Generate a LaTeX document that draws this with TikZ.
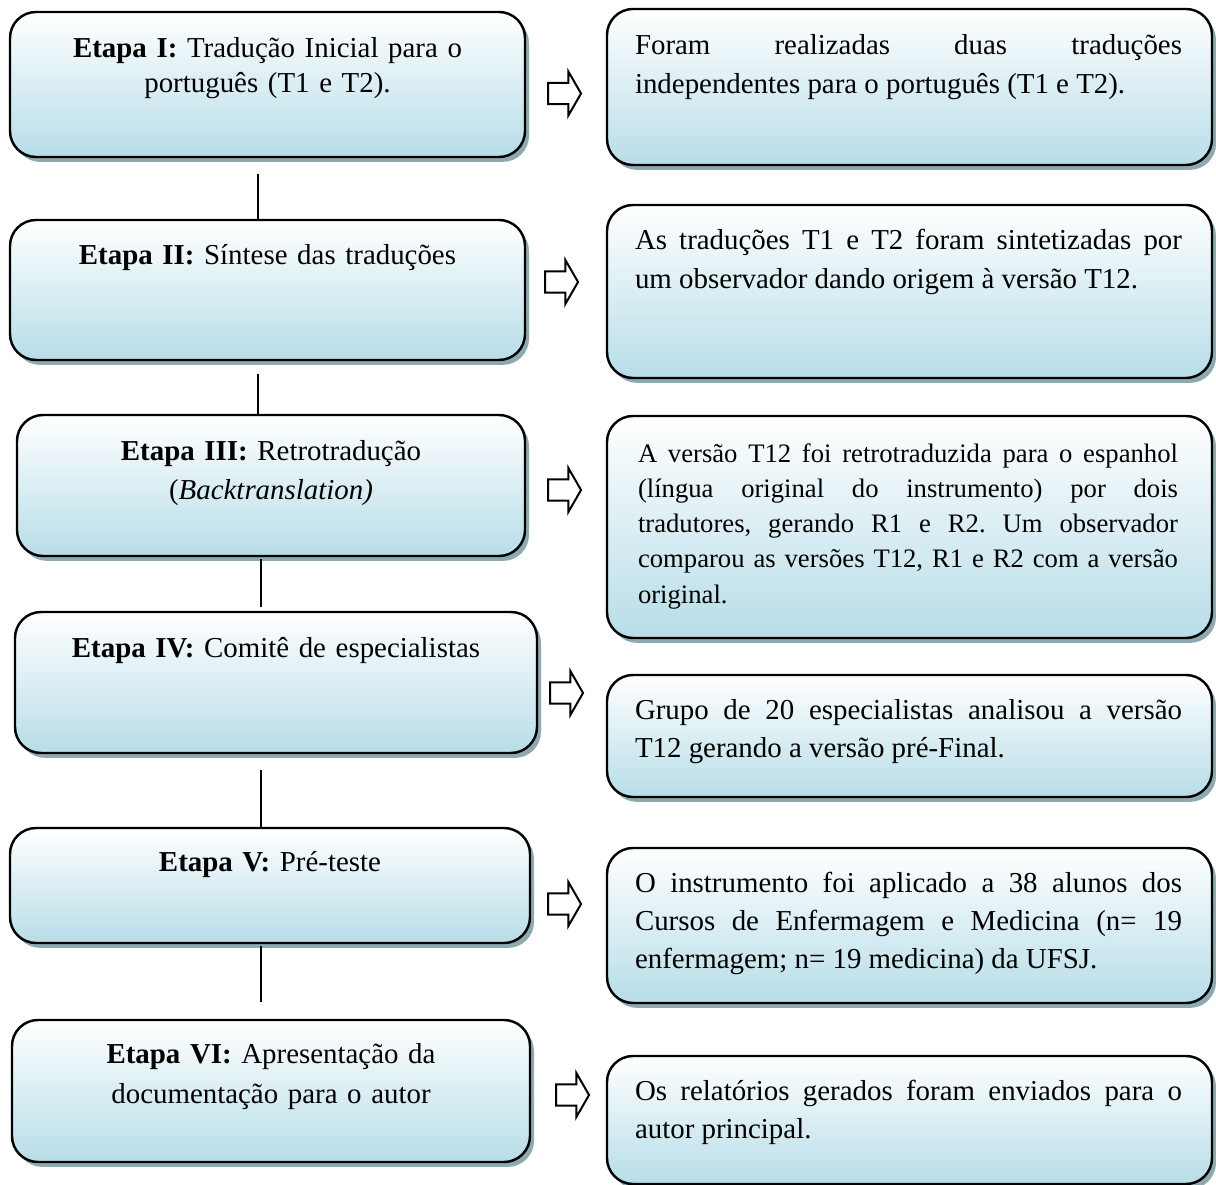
\documentclass[tikz,border=0pt]{standalone}
\usepackage{fontspec}
\setmainfont{Liberation Serif}
\usetikzlibrary{shapes.arrows,shadows}
\frenchspacing

\definecolor{boxblue}{HTML}{B7DDE8}
\definecolor{boxshadow}{HTML}{8EAAB1}

\tikzset{
  stagebox/.style={rectangle, rounded corners=11.7pt, draw=black, line width=1.1pt,
    top color=white, bottom color=boxblue, inner sep=0pt,
    drop shadow={shadow xshift=1.8pt, shadow yshift=-2.2pt, fill=boxshadow, opacity=1}},
  stagetext/.style={anchor=base, inner sep=0pt, text width=235pt, align=center,
    font=\fontsize{13}{17.3}\selectfont},
  desctext/.style={anchor=base, inner sep=0pt, text width=246.15pt, align=justify,
    font=\fontsize{13}{17.3}\selectfont,
    execute at begin node={\frenchspacing\hyphenpenalty=10000\relax\tolerance=9999\relax}},
  blockarrow/.style={single arrow, draw=black, fill=white, line width=0.9pt,
    minimum height=14.85pt, minimum width=19.35pt, single arrow head extend=5.2pt,
    single arrow tip angle=120, inner xsep=0pt, inner ysep=4.3pt},
  link/.style={draw=black, line width=0.7pt}
}

\begin{document}
\begin{tikzpicture}[x=0.45pt, y=-0.45pt]
\useasboundingbox (0,0) rectangle (1216,1185);

% stage boxes (left column)
\node[stagebox, minimum width=231.75pt, minimum height=65.25pt] (e1) at (267.5,84.5) {};
\node[stagebox, minimum width=231.75pt, minimum height=63pt]    (e2) at (267.5,290) {};
\node[stagebox, minimum width=228.6pt,  minimum height=63.45pt] (e3) at (271,485.5) {};
\node[stagebox, minimum width=234.9pt,  minimum height=63.45pt] (e4) at (276,682.5) {};
\node[stagebox, minimum width=234pt,    minimum height=51.75pt] (e5) at (270,885.5) {};
\node[stagebox, minimum width=233.1pt,  minimum height=63.9pt]  (e6) at (271,1091) {};

% description boxes (right column)
\node[stagebox, minimum width=272.25pt, minimum height=70.2pt]  (d1) at (909.5,87) {};
\node[stagebox, minimum width=272.25pt, minimum height=77.85pt] (d2) at (909.5,291.5) {};
\node[stagebox, minimum width=272.25pt, minimum height=99.9pt]  (d3) at (909.5,527) {};
\node[stagebox, minimum width=272.25pt, minimum height=54.9pt]  (d4) at (909.5,736) {};
\node[stagebox, minimum width=272.25pt, minimum height=69.75pt] (d5) at (909.5,925.5) {};
\node[stagebox, minimum width=272.25pt, minimum height=57.6pt]  (d6) at (909.5,1120) {};

% stage titles
\node[stagetext, font=\fontsize{13}{15.75}\selectfont] (e1t) at (267.5,58)
  {\textbf{Etapa I:} Tradução Inicial para o\\português (T1 e T2).};
\node[stagetext] (e2t) at (267.5,265) {\textbf{Etapa II:} Síntese das traduções};
\node[stagetext] (e3t) at (271,461) {\textbf{Etapa III:} Retrotradução\\(\textit{Backtranslation)}};
\node[stagetext] (e4t) at (276,657) {\textbf{Etapa IV:} Comitê de especialistas};
\node[stagetext] (e5t) at (270,871) {\textbf{Etapa V:} Pré-teste};
\node[stagetext, font=\fontsize{13}{18}\selectfont] (e6t) at (271,1063)
  {\textbf{Etapa VI:} Apresentação da\\documentação para o autor};

% descriptions
\node[desctext] (d1t) at (908.5,55)
  {Foram realizadas duas traduções\linebreak independentes para o português (T1 e T2).};
\node[desctext] (d2t) at (908.5,250)
  {As traduções T1 e T2 foram sintetizadas por\linebreak um observador dando origem à versão T12.};
\node[desctext, text width=243pt, font=\fontsize{12}{15.75}\selectfont]
  (d3t) at (908,463)
  {A versão T12 foi retrotraduzida para o espanhol\linebreak
   (língua original do instrumento) por dois\linebreak
   tradutores, gerando R1 e R2. Um observador\linebreak
   comparou as versões T12, R1 e R2 com a versão\linebreak
   original.};
\node[desctext] (d4t) at (908.5,719)
  {Grupo de 20 especialistas analisou a versão\linebreak T12 gerando a versão pré-Final.};
\node[desctext] (d5t) at (908.5,892)
  {O instrumento foi aplicado a 38 alunos dos\linebreak Cursos de Enfermagem e Medicina (n=~19\linebreak enfermagem; n=~19 medicina) da UFSJ.};
\node[desctext] (d6t) at (908.5,1100)
  {Os relatórios gerados foram enviados para o\linebreak autor principal.};

% block arrows between columns
\node[blockarrow] (a1) at (561.5,93.5) {};
\node[blockarrow] (a2) at (558.5,282) {};
\node[blockarrow] (a3) at (561.5,490) {};
\node[blockarrow] (a4) at (563.5,693) {};
\node[blockarrow] (a5) at (561.5,904) {};
\node[blockarrow] (a6) at (569.5,1095) {};

% vertical links between stages
\draw[link] ([shift={(-9.5,16)}]e1.south) -- ([shift={(-9.5,0)}]e2.north);
\draw[link] ([shift={(-9.5,13)}]e2.south) -- ([shift={(-13,0)}]e3.north);
\draw[link] ([shift={(-10,2)}]e3.south) -- ([shift={(-15,-4)}]e4.north);
\draw[link] ([shift={(-15,16)}]e4.south) -- ([shift={(-9,0)}]e5.north);
\draw[link] ([shift={(-9,2)}]e5.south) -- ([shift={(-10,-17)}]e6.north);
\end{tikzpicture}
\end{document}
